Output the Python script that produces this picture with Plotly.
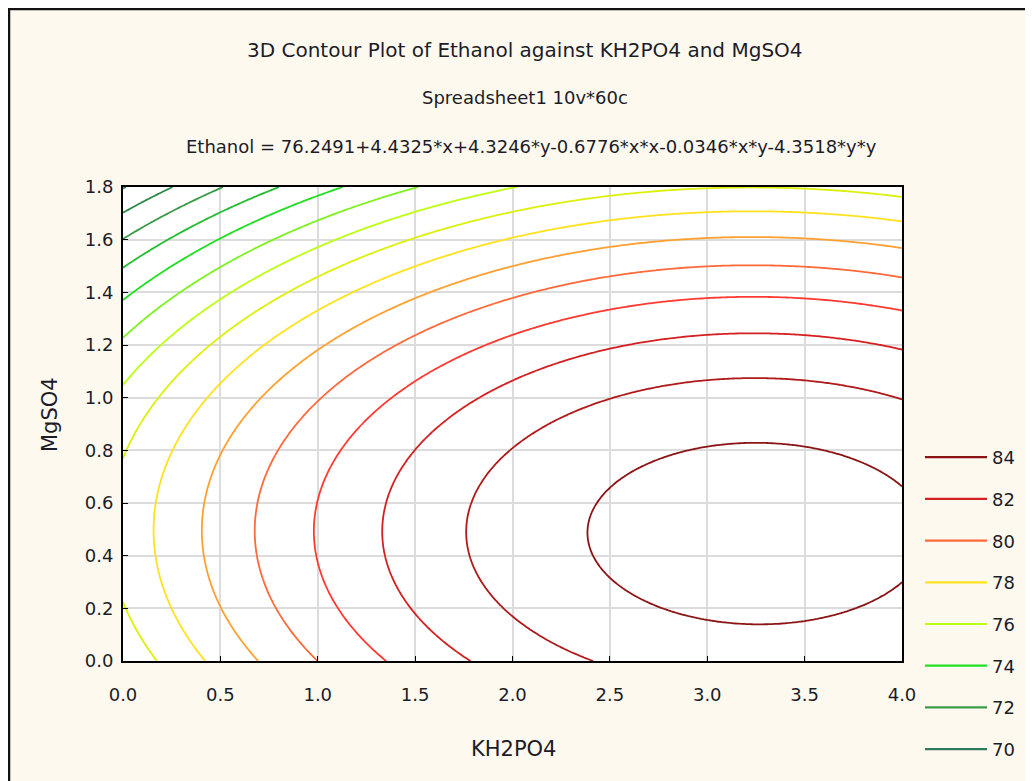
import numpy as np
import plotly.graph_objects as go

# Fitted surface shown in the chart title: Ethanol = b0 + b1*x + b2*y + b11*x*x + b12*x*y + b22*y*y
coef_names = ["b0", "b1", "b2", "b11", "b12", "b22"]
coef_values = [76.2491, 4.4325, 4.3246, -0.6776, -0.0346, -4.3518]

# Contour levels and their line colours
levels = [70, 71, 72, 73, 74, 75, 76, 77, 78, 79, 80, 81, 82, 83, 84]
level_colors = ["#2F7A5C", "#2E8A48", "#3A9C48", "#22BE2E", "#20E020", "#7CF21E",
                "#BCFF10", "#DDF00A", "#FFE21E", "#FFA030", "#FF6A3A", "#FF3A30",
                "#D42020", "#B01A1A", "#8B1515"]
legend_levels = [84, 82, 80, 78, 76, 74, 72, 70]

x_range = [0.0, 4.0]
y_range = [0.0, 1.8]
x_ticks = [0.0, 0.5, 1.0, 1.5, 2.0, 2.5, 3.0, 3.5, 4.0]
y_ticks = [0.0, 0.2, 0.4, 0.6, 0.8, 1.0, 1.2, 1.4, 1.6, 1.8]

title_lines = ["3D Contour Plot of Ethanol against KH2PO4 and MgSO4",
               "Spreadsheet1 10v*60c",
               "Ethanol = 76.2491+4.4325*x+4.3246*y-0.6776*x*x-0.0346*x*y-4.3518*y*y"]

b0, b1, b2, b11, b12, b22 = coef_values
xs = np.linspace(x_range[0], x_range[1], 241)
ys = np.linspace(y_range[0], y_range[1], 181)
X, Y = np.meshgrid(xs, ys)
Z = b0 + b1 * X + b2 * Y + b11 * X * X + b12 * X * Y + b22 * Y * Y

FONT = "DejaVu Sans, Verdana, sans-serif"
TXT = "#1c1c28"

# page offset of the figure (default body margin)
OFF = 8
PL, PR, PT, PB = 123, 902, 187, 661   # plot area in page pixels
W, H = 1033, 781
plot_w, plot_h = PR - PL, PB - PT


def px_x(x):
    return (x - PL) / plot_w


def px_y(y):
    return (PB - y) / plot_h


fig = go.Figure()

for lv, col in zip(levels, level_colors):
    fig.add_trace(go.Contour(
        x=xs, y=ys, z=Z,
        contours=dict(start=lv, end=lv, size=1, coloring="lines", showlabels=False),
        colorscale=[[0, col], [1, col]],
        showscale=False, line=dict(width=1.8), hoverinfo="skip", showlegend=False,
    ))

for lv in legend_levels:
    col = level_colors[levels.index(lv)]
    fig.add_trace(go.Scatter(
        x=[None], y=[None], mode="lines", name=str(lv),
        line=dict(color=col, width=2.2), legendgroup=str(lv), showlegend=True,
    ))

ann = []
for txt, xpx, ypx, sz in zip(title_lines, [525, 525, 531], [50, 97, 146], [20, 18, 18]):
    ann.append(dict(text=txt, x=px_x(xpx), xref="paper", y=px_y(ypx), yref="paper",
                    showarrow=False, xanchor="center", yanchor="middle",
                    font=dict(family=FONT, size=sz, color=TXT)))
ann.append(dict(text="KH2PO4", x=px_x(514), xref="paper", y=px_y(749), yref="paper",
                showarrow=False, xanchor="center", yanchor="middle",
                font=dict(family=FONT, size=21, color=TXT)))
ann.append(dict(text="MgSO4", x=px_x(50), xref="paper", y=px_y(415), yref="paper",
                showarrow=False, xanchor="center", yanchor="middle", textangle=-90,
                font=dict(family=FONT, size=21, color=TXT)))

fig.update_layout(
    width=W, height=H,
    margin=dict(l=PL - OFF, r=W - (PR - OFF), t=PT - OFF, b=H - (PB - OFF)),
    paper_bgcolor="#FEF9EE", plot_bgcolor="#FFFFFF",
    font=dict(family=FONT, size=18, color=TXT),
    annotations=ann,
    showlegend=True,
    legend=dict(x=px_x(920), xanchor="left",
                y=px_y(439), yanchor="top",
                traceorder="grouped", tracegroupgap=15.3,
                bgcolor="rgba(0,0,0,0)", font=dict(family=FONT, size=18, color=TXT),
                itemwidth=62),
    shapes=[dict(type="rect", xref="paper", yref="paper",
                 x0=px_x(9), x1=px_x(1100), y0=px_y(900), y1=px_y(9),
                 line=dict(color="#111111", width=2.5), layer="below")],
)

fig.update_xaxes(range=x_range, tickvals=x_ticks, ticktext=[f"{v:.1f}" for v in x_ticks],
                 showgrid=True, gridcolor="#DCDCDC", gridwidth=1.5, zeroline=False,
                 showline=True, linecolor="black", linewidth=2, mirror=True,
                 ticks="inside", ticklen=5, tickcolor="black",
                 ticklabelstandoff=16,
                 tickfont=dict(family=FONT, size=18, color=TXT))
fig.update_yaxes(range=y_range, tickvals=y_ticks, ticktext=[f"{v:.1f}" for v in y_ticks],
                 showgrid=True, gridcolor="#DCDCDC", gridwidth=1.5, zeroline=False,
                 showline=True, linecolor="black", linewidth=2, mirror=True,
                 ticks="inside", ticklen=5, tickcolor="black",
                 ticklabelstandoff=4,
                 tickfont=dict(family=FONT, size=18, color=TXT))

fig.write_html("out.html")
